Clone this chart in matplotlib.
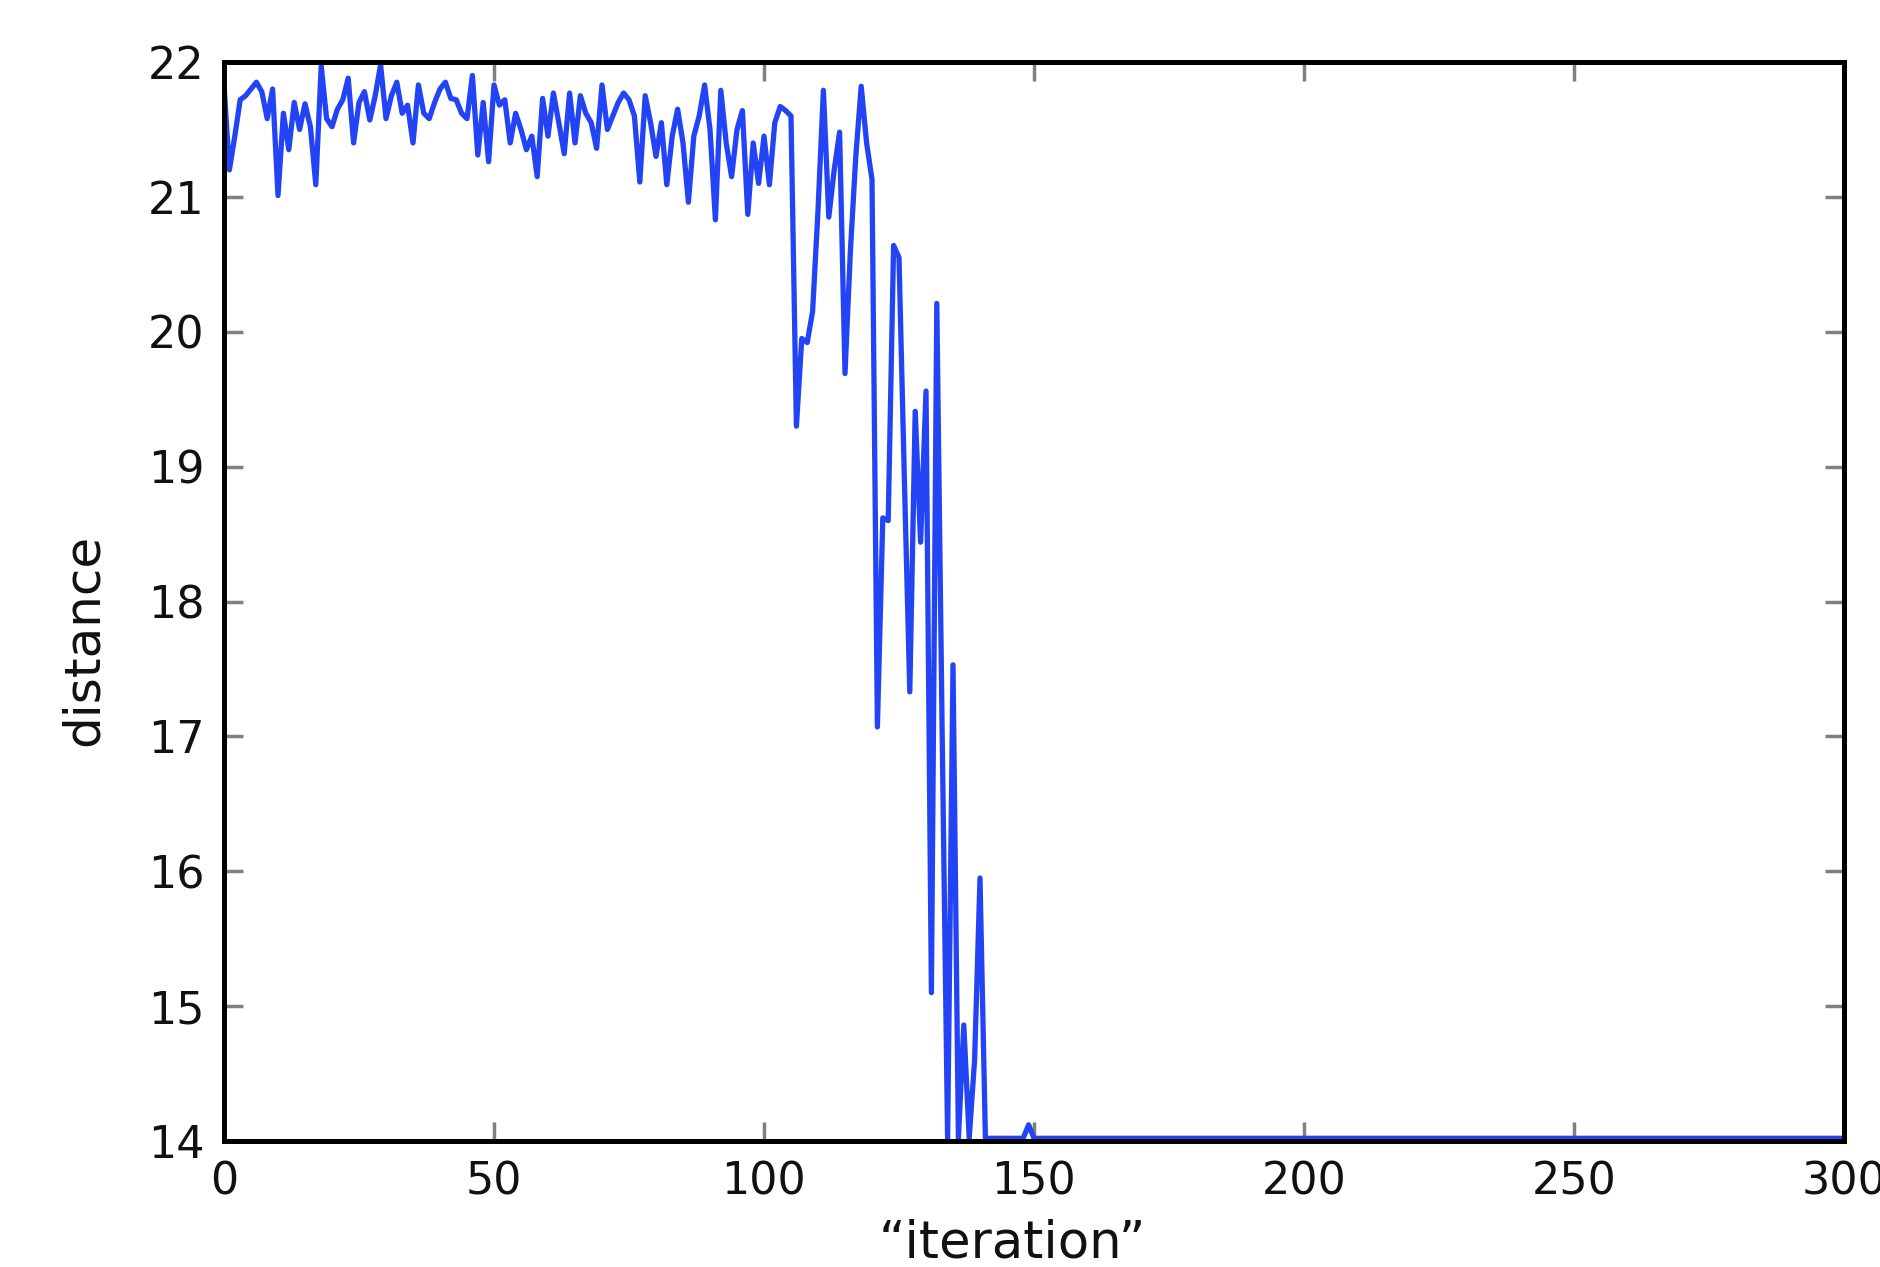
import matplotlib
matplotlib.use("Agg")
import matplotlib.pyplot as plt
import numpy as np

# ---- data ----
early_values = [
    21.83, 21.20, 21.45, 21.72, 21.75, 21.80, 21.85, 21.78, 21.58, 21.80,  # 0-9
    21.01, 21.62, 21.35, 21.70, 21.50, 21.69, 21.52, 21.09, 21.97, 21.58,  # 10-19
    21.52, 21.65, 21.72, 21.88, 21.40, 21.70, 21.78, 21.57, 21.75, 21.98,  # 20-29
    21.58, 21.75, 21.85, 21.62, 21.68, 21.40, 21.83, 21.62, 21.58, 21.70,  # 30-39
    21.80, 21.85, 21.73, 21.72, 21.62, 21.58, 21.90, 21.31, 21.70, 21.26,  # 40-49
    21.83, 21.68, 21.72, 21.40, 21.62, 21.50, 21.35, 21.45, 21.15, 21.73,  # 50-59
    21.45, 21.77, 21.55, 21.32, 21.77, 21.40, 21.75, 21.62, 21.55, 21.36,  # 60-69
    21.83, 21.50, 21.60, 21.70, 21.77, 21.72, 21.60, 21.11, 21.75, 21.55,  # 70-79
    21.30, 21.55, 21.09, 21.45, 21.65, 21.40, 20.96, 21.45, 21.60, 21.83,  # 80-89
    21.50, 20.83, 21.79, 21.40, 21.15, 21.50, 21.64, 20.87, 21.40, 21.10,  # 90-99
    21.45, 21.09, 21.55, 21.67, 21.64, 21.60, 19.30, 19.95, 19.92, 20.15,  # 100-109
    20.90, 21.79, 20.85, 21.20, 21.48, 19.69, 20.60, 21.30, 21.82, 21.40,  # 110-119
    21.13, 17.07, 18.62, 18.60, 20.64, 20.55, 18.90, 17.33, 19.41, 18.44,  # 120-129
    19.56, 15.10, 20.21, 17.00, 14.02, 17.53, 14.02, 14.86, 14.02, 14.60,  # 130-139
    15.95, 14.02, 14.02, 14.02, 14.02, 14.02, 14.02, 14.02, 14.02, 14.12,  # 140-149
]
converged_value = 14.02
n_iterations = 301

iterations = np.arange(n_iterations)
distance = np.full(n_iterations, converged_value)
distance[:len(early_values)] = early_values

x_ticks = [0, 50, 100, 150, 200, 250, 300]
y_ticks = [14, 15, 16, 17, 18, 19, 20, 21, 22]

# ---- figure ----
plt.rcParams['font.family'] = ['DejaVu Sans']
W, H = 1880, 1267
fig = plt.figure(figsize=(W / 100, H / 100), dpi=100, facecolor='white')
ax = fig.add_axes([224 / W, 1 - 1141 / H, (1844 - 224) / W, (1141 - 62) / H])

ax.plot(iterations, distance, color='#2244f5', linewidth=3.8)

ax.set_xlim(0, 300)
ax.set_ylim(14, 22)
ax.set_xticks(x_ticks)
ax.set_yticks(y_ticks)

for s in ax.spines.values():
    s.set_linewidth(3.6)
    s.set_color('black')
    s.set_zorder(3)

ax.tick_params(direction='in', length=14, width=2.5, color='0.5',
               top=True, right=True, labelsize=32, pad=14, labelcolor='#111111')

ax.set_xlabel('\u201citeration\u201d', fontsize=37, color='#111111')
ax.xaxis.set_label_coords((1012 - 224) / 1620, -0.072)
ax.set_ylabel('distance', fontsize=36, color='#111111')
ax.yaxis.set_label_coords((108 - 224) / 1620, 0.464)

fig.savefig('out.png', dpi=100, facecolor='white')
